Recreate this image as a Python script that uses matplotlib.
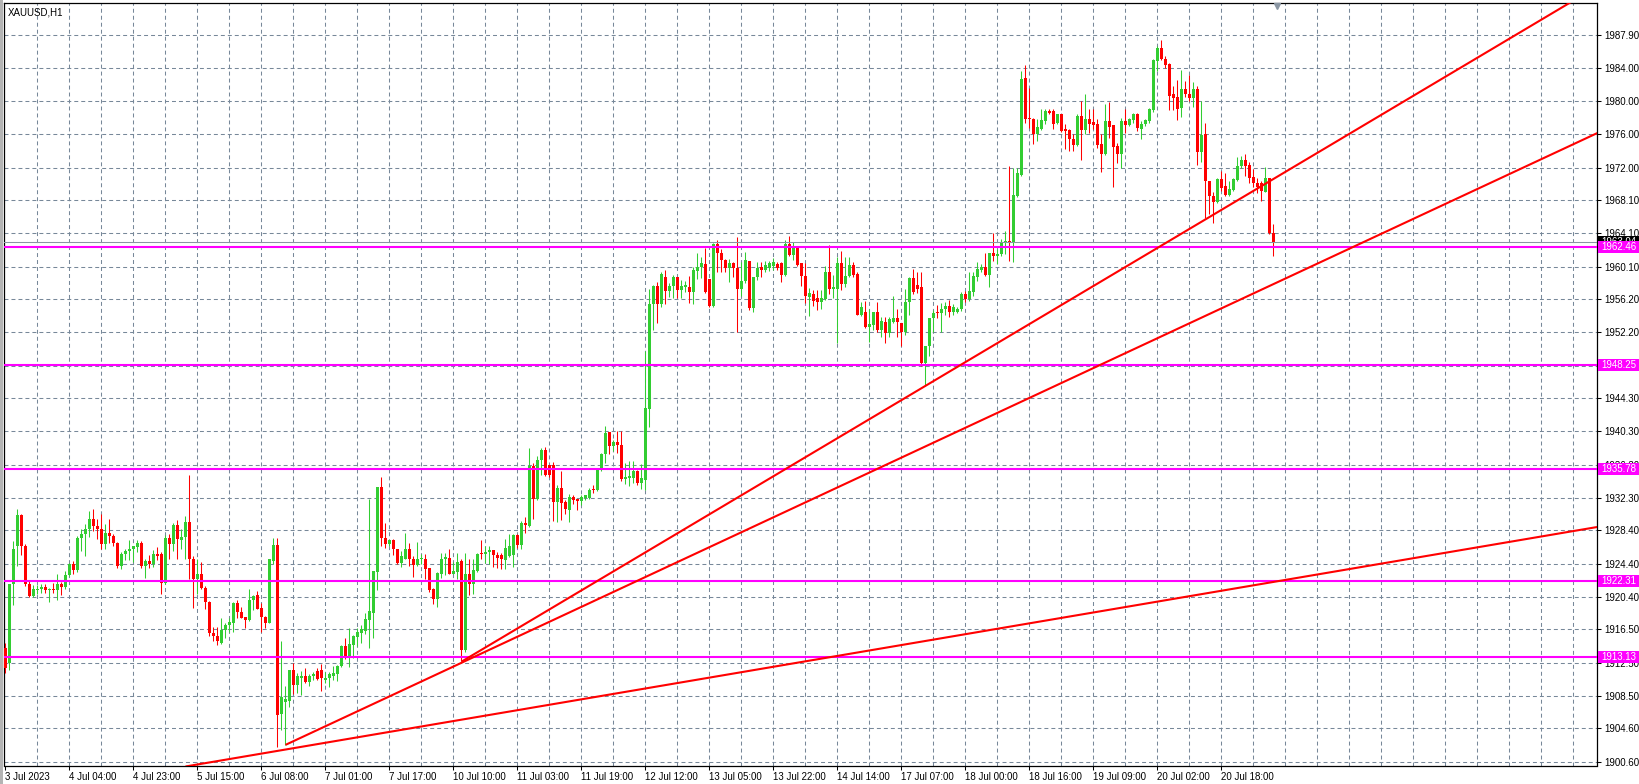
import numpy as np
import matplotlib
matplotlib.use("Agg")
import matplotlib.pyplot as plt
from matplotlib.patches import Rectangle
from matplotlib.transforms import blended_transform_factory

plt.rcParams['font.family'] = ['Liberation Sans', 'DejaVu Sans']

symbol_title = "XAUUSD,H1"

opens = [
    1914.3, 1912.5, 1921.9, 1926.5, 1930.2, 1926.5, 1922.0, 1920.5, 1921.2, 1921.3,
    1921.6, 1921.2, 1921.3, 1921.2, 1921.9, 1921.6, 1923.0, 1924.3, 1923.6, 1927.5,
    1928.0, 1928.6, 1929.8, 1928.9, 1928.6, 1926.7, 1928.1, 1927.7, 1926.9, 1924.1,
    1925.5, 1925.9, 1926.2, 1926.4, 1926.9, 1924.1, 1924.7, 1924.3, 1925.5, 1925.6,
    1922.1, 1927.5, 1926.8, 1929.0, 1927.2, 1927.6, 1929.4, 1925.0, 1922.5, 1923.2,
    1921.5, 1919.8, 1916.1, 1915.7, 1914.8, 1916.4, 1917.0, 1917.3, 1919.7, 1918.6,
    1918.0, 1917.6, 1920.0, 1920.6, 1919.0, 1918.0, 1917.2, 1924.7, 1926.6, 1906.3,
    1907.8, 1907.9, 1911.6, 1909.8, 1910.7, 1910.9, 1910.1, 1910.9, 1911.5, 1911.6,
    1910.4, 1910.7, 1910.9, 1911.1, 1912.1, 1914.5, 1913.1, 1914.6, 1915.6, 1916.1,
    1916.3, 1917.6, 1918.5, 1923.4, 1933.6, 1927.5, 1926.8, 1927.2, 1926.2, 1924.5,
    1925.0, 1926.1, 1924.9, 1924.2, 1925.0, 1925.0, 1923.9, 1921.3, 1920.1, 1923.2,
    1924.9, 1925.1, 1923.2, 1923.4, 1924.7, 1914.0, 1923.1, 1921.9, 1923.5, 1925.6,
    1925.5, 1925.8, 1926.0, 1925.4, 1925.4, 1924.8, 1925.3, 1925.4, 1927.8, 1926.6,
    1929.3, 1928.9, 1936.1, 1932.2, 1936.9, 1938.1, 1936.2, 1936.2, 1931.8, 1933.5,
    1931.8, 1930.9, 1932.4, 1932.2, 1931.9, 1932.3, 1932.3, 1933.4, 1933.2, 1935.7,
    1937.6, 1940.2, 1938.5, 1939.0, 1938.6, 1934.6, 1934.7, 1934.7, 1935.5, 1934.1,
    1934.5, 1943.0, 1955.6, 1957.8, 1955.6, 1958.8, 1957.2, 1957.8, 1958.8, 1957.3,
    1957.7, 1957.7, 1957.0, 1959.6, 1960.0, 1960.4, 1958.6, 1955.4, 1962.8, 1961.8,
    1960.9, 1959.9, 1960.5, 1959.9, 1957.4, 1958.4, 1960.8, 1955.1, 1958.8, 1960.0,
    1959.7, 1959.9, 1960.2, 1960.4, 1960.5, 1959.1, 1962.8, 1961.5, 1962.6, 1960.5,
    1959.0, 1956.5, 1956.8, 1956.3, 1955.9, 1956.2, 1959.4, 1957.4, 1957.4, 1960.5,
    1958.0, 1959.0, 1960.3, 1959.2, 1954.3, 1954.6, 1952.9, 1953.1, 1954.6, 1952.5,
    1953.5, 1952.1, 1953.5, 1953.9, 1953.3, 1952.2, 1955.8, 1958.7, 1957.9, 1957.6,
    1948.5, 1950.5, 1953.9, 1954.6, 1954.5, 1955.0, 1955.4, 1954.7, 1954.6, 1955.0,
    1956.8, 1956.2, 1957.1, 1958.8, 1959.7, 1960.0, 1959.1, 1961.8, 1961.4, 1961.6,
    1963.1, 1963.2, 1963.0, 1968.6, 1971.1, 1982.8, 1978.0, 1977.9, 1976.1, 1976.6,
    1977.6, 1978.8, 1978.8, 1977.4, 1978.4, 1976.6, 1976.5, 1975.5, 1974.7, 1978.2,
    1976.5, 1977.9, 1977.5, 1977.2, 1974.9, 1973.6, 1977.6, 1977.1, 1974.6, 1973.7,
    1977.6, 1977.1, 1977.7, 1978.4, 1976.6, 1977.2, 1977.6, 1978.9, 1984.8, 1986.4,
    1985.1, 1984.5, 1980.8, 1980.5, 1979.2, 1981.5, 1980.9, 1980.4, 1981.4, 1973.9,
    1976.0, 1970.4, 1968.6, 1967.9, 1970.6, 1969.8, 1968.7, 1969.3, 1970.5, 1972.2,
    1972.9, 1972.3, 1970.9, 1970.2, 1970.2, 1969.1, 1970.7, 1964.2,
]

highs = [
    1914.8, 1922.0, 1927.1, 1931.0, 1930.4, 1926.7, 1922.3, 1921.8, 1921.8, 1921.9,
    1921.9, 1921.5, 1922.1, 1923.2, 1922.2, 1923.5, 1924.5, 1924.7, 1927.7, 1928.6,
    1929.1, 1930.7, 1931.0, 1929.8, 1930.3, 1929.2, 1929.8, 1928.0, 1927.0, 1925.8,
    1926.1, 1927.2, 1926.5, 1927.2, 1927.1, 1924.9, 1925.4, 1926.0, 1926.4, 1925.8,
    1927.8, 1928.0, 1929.3, 1929.6, 1928.5, 1930.1, 1935.0, 1925.3, 1924.9, 1924.6,
    1921.7, 1919.9, 1916.8, 1916.8, 1917.8, 1917.3, 1917.9, 1919.8, 1920.0, 1919.2,
    1918.0, 1921.4, 1920.6, 1921.1, 1919.7, 1918.1, 1925.0, 1927.5, 1927.5, 1915.1,
    1909.7, 1911.6, 1912.5, 1911.2, 1911.5, 1911.9, 1911.1, 1911.4, 1911.9, 1912.3,
    1911.4, 1911.4, 1912.1, 1912.2, 1914.6, 1915.5, 1916.6, 1915.8, 1916.6, 1917.0,
    1918.5, 1932.2, 1923.5, 1933.6, 1934.8, 1929.3, 1927.2, 1927.3, 1926.2, 1925.9,
    1928.1, 1926.9, 1925.3, 1927.0, 1925.6, 1925.6, 1923.9, 1921.5, 1923.4, 1925.7,
    1925.7, 1926.2, 1924.6, 1925.7, 1924.9, 1925.7, 1925.0, 1925.0, 1925.7, 1927.2,
    1926.5, 1926.5, 1926.0, 1925.8, 1925.7, 1927.3, 1927.9, 1927.9, 1927.9, 1929.5,
    1930.0, 1938.3, 1936.5, 1937.3, 1938.3, 1938.4, 1936.2, 1936.6, 1933.8, 1935.5,
    1932.1, 1932.8, 1932.6, 1932.2, 1932.6, 1932.6, 1933.5, 1933.8, 1935.9, 1937.7,
    1941.0, 1940.2, 1939.3, 1940.3, 1940.3, 1936.5, 1936.7, 1936.7, 1935.6, 1936.4,
    1949.9, 1957.4, 1957.9, 1958.2, 1959.5, 1959.7, 1958.1, 1959.1, 1958.8, 1958.5,
    1958.4, 1959.0, 1960.0, 1961.7, 1961.2, 1962.3, 1958.6, 1963.0, 1963.3, 1962.2,
    1961.0, 1961.0, 1960.7, 1963.7, 1960.7, 1961.9, 1960.8, 1958.9, 1960.6, 1960.6,
    1960.8, 1960.8, 1961.1, 1960.6, 1960.7, 1963.3, 1963.8, 1963.1, 1962.6, 1960.5,
    1960.5, 1957.5, 1957.3, 1957.3, 1957.3, 1960.2, 1962.7, 1959.1, 1961.2, 1962.0,
    1961.2, 1961.2, 1960.6, 1959.4, 1955.9, 1956.0, 1955.0, 1954.7, 1955.9, 1954.0,
    1954.0, 1954.1, 1956.6, 1955.0, 1953.3, 1957.4, 1958.8, 1959.8, 1959.5, 1959.5,
    1950.6, 1953.9, 1954.9, 1955.5, 1955.7, 1955.9, 1956.1, 1955.6, 1955.2, 1957.0,
    1957.2, 1959.5, 1959.5, 1960.6, 1960.4, 1961.8, 1961.8, 1964.2, 1962.2, 1963.4,
    1964.4, 1972.2, 1972.0, 1972.0, 1983.6, 1984.3, 1981.6, 1978.0, 1977.8, 1979.0,
    1979.0, 1979.1, 1979.1, 1978.4, 1978.5, 1977.3, 1976.6, 1976.1, 1978.5, 1980.0,
    1980.9, 1979.0, 1979.1, 1977.8, 1976.0, 1979.6, 1979.9, 1977.1, 1975.0, 1978.0,
    1979.0, 1978.0, 1978.6, 1978.6, 1977.6, 1977.9, 1979.2, 1985.1, 1986.6, 1987.4,
    1985.4, 1984.6, 1981.8, 1982.5, 1983.7, 1982.4, 1983.2, 1982.3, 1981.8, 1980.0,
    1977.4, 1970.4, 1969.1, 1970.8, 1971.6, 1971.4, 1970.4, 1970.7, 1973.3, 1973.4,
    1973.7, 1972.7, 1971.8, 1970.8, 1970.4, 1972.1, 1970.8, 1965.2,
]

lows = [
    1911.2, 1911.6, 1919.4, 1924.1, 1925.4, 1921.7, 1920.4, 1920.4, 1920.8, 1920.9,
    1920.9, 1919.8, 1920.9, 1920.0, 1920.6, 1921.3, 1922.9, 1923.1, 1923.4, 1925.9,
    1925.3, 1927.6, 1928.3, 1927.4, 1926.1, 1926.1, 1926.9, 1926.5, 1923.9, 1923.8,
    1924.8, 1924.8, 1924.6, 1925.8, 1923.9, 1922.7, 1923.9, 1924.0, 1924.8, 1920.8,
    1922.0, 1925.0, 1925.9, 1925.0, 1926.1, 1925.0, 1922.6, 1919.0, 1920.7, 1921.3,
    1918.9, 1915.7, 1915.1, 1914.6, 1914.7, 1915.4, 1916.2, 1916.2, 1917.9, 1917.9,
    1916.7, 1917.5, 1918.8, 1918.9, 1916.2, 1916.6, 1917.2, 1924.4, 1902.3, 1904.4,
    1902.6, 1907.2, 1908.7, 1908.8, 1908.6, 1910.0, 1909.7, 1910.4, 1910.4, 1909.1,
    1910.0, 1909.5, 1910.4, 1910.3, 1912.0, 1912.9, 1912.0, 1913.0, 1914.5, 1914.9,
    1915.9, 1914.2, 1915.4, 1921.2, 1926.5, 1926.3, 1926.5, 1925.4, 1924.4, 1924.0,
    1924.9, 1924.1, 1922.8, 1924.1, 1924.4, 1922.5, 1921.0, 1919.5, 1919.2, 1922.7,
    1923.0, 1923.1, 1923.1, 1922.5, 1912.7, 1913.8, 1920.6, 1920.8, 1923.4, 1924.9,
    1924.5, 1924.4, 1924.0, 1923.9, 1923.7, 1923.7, 1925.2, 1924.0, 1926.3, 1926.1,
    1928.1, 1928.8, 1929.8, 1932.1, 1935.0, 1934.9, 1934.8, 1929.5, 1929.4, 1929.6,
    1930.3, 1929.4, 1931.6, 1930.8, 1931.4, 1932.0, 1932.2, 1932.9, 1933.1, 1935.5,
    1936.5, 1937.6, 1937.9, 1937.7, 1934.3, 1934.0, 1933.7, 1934.1, 1933.9, 1933.4,
    1933.3, 1940.8, 1952.5, 1953.3, 1955.3, 1955.6, 1956.5, 1956.3, 1956.3, 1956.3,
    1957.1, 1955.7, 1955.6, 1958.6, 1958.7, 1956.9, 1955.2, 1955.3, 1959.4, 1959.4,
    1959.5, 1958.2, 1958.8, 1952.3, 1956.6, 1958.1, 1954.9, 1954.6, 1958.5, 1958.9,
    1959.5, 1959.6, 1959.7, 1959.7, 1958.3, 1959.0, 1961.4, 1960.9, 1960.2, 1957.8,
    1955.7, 1954.2, 1955.4, 1954.9, 1955.0, 1956.1, 1956.8, 1956.3, 1950.9, 1957.3,
    1957.6, 1958.8, 1958.9, 1954.3, 1954.2, 1952.7, 1951.1, 1952.5, 1952.2, 1951.6,
    1950.9, 1951.7, 1953.3, 1951.7, 1950.6, 1951.9, 1954.3, 1956.8, 1956.9, 1948.1,
    1945.8, 1949.3, 1952.3, 1953.9, 1952.3, 1954.3, 1954.0, 1954.3, 1954.5, 1954.8,
    1955.9, 1956.0, 1956.6, 1958.4, 1959.4, 1959.0, 1957.6, 1960.8, 1960.4, 1961.4,
    1961.6, 1960.8, 1960.6, 1968.5, 1971.0, 1977.4, 1976.8, 1974.9, 1975.2, 1976.5,
    1977.3, 1978.4, 1976.6, 1977.3, 1976.3, 1974.3, 1974.0, 1974.0, 1974.6, 1972.9,
    1976.0, 1976.2, 1976.7, 1974.4, 1971.5, 1973.5, 1975.6, 1969.7, 1972.6, 1972.0,
    1976.2, 1977.0, 1977.4, 1976.4, 1975.4, 1977.0, 1977.4, 1978.7, 1983.6, 1984.9,
    1984.0, 1978.9, 1978.9, 1977.7, 1978.1, 1980.5, 1980.0, 1979.3, 1972.3, 1972.7,
    1965.9, 1966.4, 1965.3, 1967.8, 1969.2, 1968.6, 1968.6, 1969.2, 1970.4, 1972.0,
    1971.0, 1970.2, 1969.7, 1969.0, 1968.0, 1969.1, 1964.0, 1961.4,
]

closes = [
    1911.9, 1921.9, 1926.1, 1930.2, 1926.5, 1921.9, 1920.5, 1921.3, 1921.4, 1921.6,
    1921.2, 1921.3, 1921.2, 1921.9, 1921.6, 1923.0, 1924.3, 1923.6, 1927.5, 1928.0,
    1928.6, 1929.8, 1928.9, 1928.6, 1926.7, 1928.1, 1927.7, 1926.9, 1924.1, 1925.5,
    1925.9, 1926.2, 1926.5, 1926.9, 1924.1, 1924.7, 1924.3, 1925.5, 1925.3, 1922.1,
    1927.5, 1926.8, 1929.0, 1927.4, 1927.6, 1929.4, 1925.0, 1922.5, 1923.2, 1921.5,
    1919.8, 1916.0, 1915.7, 1915.1, 1916.4, 1917.0, 1917.4, 1919.6, 1918.6, 1917.9,
    1917.6, 1920.0, 1920.5, 1918.9, 1918.0, 1917.2, 1924.9, 1926.6, 1906.2, 1908.3,
    1908.1, 1911.6, 1909.8, 1910.9, 1910.9, 1910.1, 1910.9, 1911.1, 1910.5, 1910.6,
    1910.7, 1911.1, 1911.2, 1912.1, 1914.5, 1913.1, 1914.7, 1915.7, 1916.2, 1916.5,
    1917.7, 1918.7, 1923.5, 1933.6, 1927.5, 1926.8, 1927.2, 1926.1, 1924.5, 1925.3,
    1926.1, 1925.0, 1924.2, 1925.0, 1925.1, 1923.8, 1921.2, 1920.1, 1923.3, 1924.9,
    1925.2, 1923.2, 1923.5, 1924.6, 1914.0, 1923.1, 1921.9, 1923.6, 1925.6, 1925.5,
    1925.8, 1926.0, 1925.4, 1925.1, 1925.0, 1926.3, 1926.5, 1927.8, 1926.6, 1929.3,
    1929.0, 1936.1, 1932.2, 1936.9, 1938.1, 1935.1, 1935.1, 1931.8, 1933.5, 1931.7,
    1931.0, 1932.4, 1932.0, 1931.9, 1932.4, 1932.6, 1933.3, 1933.2, 1935.8, 1937.6,
    1940.1, 1938.5, 1939.0, 1938.6, 1934.6, 1934.8, 1934.9, 1935.5, 1934.1, 1934.7,
    1943.1, 1955.6, 1957.8, 1955.6, 1959.2, 1957.2, 1957.8, 1958.8, 1957.3, 1957.8,
    1957.9, 1957.0, 1959.7, 1960.0, 1960.5, 1957.0, 1955.4, 1962.8, 1961.8, 1960.9,
    1959.9, 1960.5, 1959.9, 1957.4, 1958.4, 1960.9, 1955.1, 1958.8, 1959.9, 1959.7,
    1960.3, 1960.5, 1960.6, 1959.9, 1959.1, 1962.8, 1961.5, 1962.6, 1960.3, 1959.0,
    1956.6, 1956.9, 1956.0, 1955.9, 1956.3, 1959.4, 1957.4, 1957.6, 1960.5, 1958.0,
    1959.0, 1960.3, 1959.1, 1954.3, 1955.2, 1952.9, 1953.2, 1954.7, 1952.5, 1953.6,
    1952.1, 1953.8, 1953.9, 1953.4, 1952.2, 1955.8, 1958.7, 1957.0, 1957.4, 1948.5,
    1950.5, 1953.9, 1954.5, 1954.5, 1955.0, 1955.4, 1954.6, 1955.2, 1955.0, 1956.8,
    1956.2, 1957.2, 1959.0, 1959.8, 1960.1, 1959.1, 1961.8, 1961.4, 1961.6, 1963.1,
    1963.2, 1963.0, 1968.7, 1971.3, 1982.7, 1977.9, 1977.8, 1976.1, 1976.9, 1977.7,
    1978.8, 1978.6, 1977.3, 1978.4, 1976.4, 1976.4, 1975.4, 1974.7, 1978.2, 1976.5,
    1977.9, 1977.3, 1977.1, 1974.7, 1973.6, 1977.6, 1976.9, 1974.5, 1973.7, 1977.6,
    1977.1, 1977.9, 1978.5, 1976.8, 1977.3, 1977.7, 1979.0, 1984.9, 1986.4, 1985.1,
    1984.4, 1980.6, 1980.4, 1979.1, 1981.5, 1980.8, 1980.4, 1981.4, 1973.9, 1975.9,
    1970.4, 1968.6, 1967.9, 1970.6, 1969.6, 1968.7, 1969.4, 1970.6, 1972.2, 1972.9,
    1972.2, 1970.8, 1970.1, 1969.7, 1969.2, 1970.7, 1964.1, 1963.04,
]

date_labels = [
    "3 Jul 2023", "4 Jul 04:00", "4 Jul 23:00", "5 Jul 15:00", "6 Jul 08:00",
    "7 Jul 01:00", "7 Jul 17:00", "10 Jul 10:00", "11 Jul 03:00", "11 Jul 19:00",
    "12 Jul 12:00", "13 Jul 05:00", "13 Jul 22:00", "14 Jul 14:00", "17 Jul 07:00",
    "18 Jul 00:00", "18 Jul 16:00", "19 Jul 09:00", "20 Jul 02:00", "20 Jul 18:00",
]
bars_per_label = 16
bars_per_grid = 8

price_labels = [
    "1900.60", "1904.60", "1908.50", "1912.50", "1916.50", "1920.40", "1924.40",
    "1928.40", "1932.30", "1936.30", "1940.30", "1944.30", "1948.20", "1952.20",
    "1956.20", "1960.10", "1964.10", "1968.10", "1972.00", "1976.00", "1980.00",
    "1984.00", "1987.90",
]

level_prices = [1962.46, 1948.25, 1935.78, 1922.31, 1913.13]

# trend lines (rays): anchor bar, anchor price, second bar, second price
trend_bar1 = [70, 114, 45]
trend_price1 = [1902.6, 1912.6, 1900.0]
trend_bar2 = [310, 310, 310]
trend_price2 = [1956.43, 1968.64, 1921.62]

# ---------------------------------------------------------------- figure
W, H = 1640, 784
fig = plt.figure(figsize=(W / 100, H / 100), dpi=100)
fig.patch.set_facecolor("white")
L, R, T, B = 4, 1597, 3, 765.5
ax = fig.add_axes([L / W, 1 - B / H, (R - L) / W, (B - T) / H])
ax.set_facecolor("white")

x_left, x_right = -0.375, 397.9
y_bottom, y_top = 1900.12, 1991.8
ax.set_xlim(x_left, x_right)
ax.set_ylim(y_bottom, y_top)

grid_color = "#778899"
dash = (0, (3.8, 2.9))
price_ticks = [float(s) for s in price_labels]
for p in price_ticks:
    ax.axhline(p, color=grid_color, lw=0.75, ls=dash, zorder=1)
for gx in np.arange(bars_per_grid, x_right, bars_per_grid):
    ax.axvline(gx, color=grid_color, lw=0.75, ls=dash, zorder=1)

# candles
o = np.array(opens); h = np.array(highs); l = np.array(lows); c = np.array(closes)
n = len(o)
xs = np.arange(n)
up = c >= o
cols = np.where(up, "#32CD32", "#FF0000")
ax.vlines(xs, l, h, colors=cols, lw=0.75, zorder=3)
body_bottom = np.minimum(o, c)
body_h = np.maximum(np.abs(c - o), 0.12)
ax.bar(xs, body_h, bottom=body_bottom, width=0.72, color=cols, lw=0, zorder=4)

# bid line
bid = closes[-1]
ax.axhline(bid, color="#8a96a3", lw=0.75, zorder=4.5)

# horizontal levels
for p in level_prices:
    ax.axhline(p, color="#FF00FF", lw=1.5, zorder=5)

# trend lines
for b1, p1, b2, p2 in zip(trend_bar1, trend_price1, trend_bar2, trend_price2):
    slope = (p2 - p1) / (b2 - b1)
    xe = x_right + 2
    ax.plot([b1, xe], [p1, p1 + slope * (xe - b1)], color="#FF0000", lw=1.5,
            zorder=6, solid_capstyle="butt")

# axes styling
for s in ax.spines.values():
    s.set_color("black")
    s.set_linewidth(0.9)

ax.yaxis.tick_right()
ax.set_yticks(price_ticks)
ax.set_yticklabels(price_labels)
ax.tick_params(axis="y", direction="out", length=3, width=0.75, pad=2,
               labelsize=7, colors="black")

xt = np.arange(len(date_labels)) * bars_per_label
ax.set_xticks(xt)
ax.set_xticklabels(date_labels, ha="left")
ax.tick_params(axis="x", direction="out", length=3, width=0.75, pad=2,
               labelsize=7, colors="black")

# price label boxes on the right axis
trans = blended_transform_factory(ax.transAxes, ax.transData)
px_per_price = (B - T) / (y_top - y_bottom)
box_h = 12 / px_per_price
box_x0 = (1598 - L) / (R - L)
box_w = (1640 - 1598) / (R - L)
text_x = (1601 - L) / (R - L)


def price_box(p, fc, zo):
    ax.add_patch(Rectangle((box_x0, p - box_h / 2), box_w, box_h, transform=trans,
                           facecolor=fc, edgecolor="none", clip_on=False, zorder=zo))
    ax.text(text_x, p, f"{p:.2f}", transform=trans, ha="left", va="center",
            color="white", fontsize=7, zorder=zo + 0.5, clip_on=False)


price_box(bid, "black", 10)
for p in level_prices:
    price_box(p, "#FF00FF", 11)

# chart-shift marker at the top
ax.plot([n], [y_top - 0.35], marker="v", color="#8a96a3", ms=5, clip_on=False,
        zorder=7, linestyle="none")

# left window frame band
fig.patches.append(Rectangle((0, 0), 3 / W, 1, transform=fig.transFigure,
                             facecolor="#b4b4b4", edgecolor="none"))

fig.text(8 / W, 1 - 12.5 / H, symbol_title, fontsize=7, va="center", ha="left",
         color="black")

fig.savefig("out.png", dpi=100, facecolor="white")
